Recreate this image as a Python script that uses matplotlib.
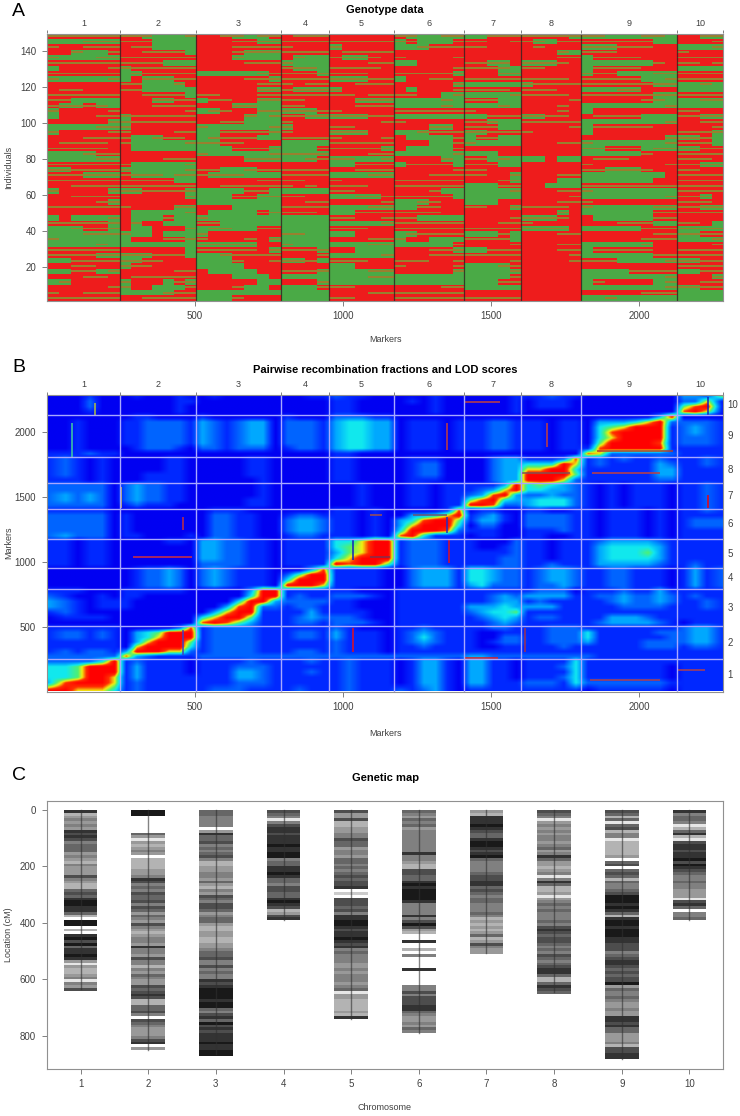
import numpy as np
import matplotlib
matplotlib.use('Agg')
import matplotlib.pyplot as plt
from matplotlib import colors

plt.rcParams['font.family'] = ['Liberation Sans', 'DejaVu Sans']

W, H = 740, 1116

chrom_names = ['1', '2', '3', '4', '5', '6', '7', '8', '9', '10']
chrom_ends = [248, 503, 791, 953, 1173, 1410, 1603, 1805, 2130, 2285]
chrom_cols = [6, 7, 7, 4, 5, 6, 5, 5, 8, 4]

# genotype blocks, top row = individuals 148-150. R/G solid, r/g striped
genotype_rows = [
    'rrrrrr rrgGGGg RRrgGgr Rrrr RRRRR rgGGgg GGrrr rrrrg ggGGGggG RRgg',
    'GGGggg rrrGGGG RRRrrgg rrrr rrrrr grGGGr rrRRr rgGrr rrrrrrGG RRRr',
    'rRRrrr RrrGGGG RRRrrrr rRRR gRRRR GGgrrr rrRRR RrRRR gggrrrRR GGGg',
    'RRgGGr RRrrrrG RRRrggg rrrr Rrrrr RRRRRR RRRRR RRRgG rrrRRRRR rRRR',
    'gGGGgg rrrrrrr RRRgGGG RgGG rggrR rRRRRr RRRRR RRRrr GrrrrRRR rrrr',
    'rrrrrr rrrrGGG RRRRrrr gGGG RRRrr GGRRRR rrggR gggrR GGGGGGrR rrRr',
    'GRRRRr grrrrrr RRRRRRR rggG rrrrR RRRRRr rrrgG rrRRR GrrrrRRR GGGG',
    'rrrrrr Ggrrrrr GGGGGgr rrrg rrrRR rrrrrg RRRgg RRRRR grrGGGgg rrrr',
    'gGGGGg GRgggrr RRRRrrg rrrr gggrr GRRrrR rrrrr rrrrR rrrrrGGg rrrr',
    'RRRRRR rrGGGgR RRRRRrr rRrr RRrrr RRRRRg GGGGG grrrr rrrrrrgg GGgG',
    'RrrRRR rrGGGGG RRRRRgg rggg gRRRR RGRRRr rrrrR rrrRR GGGggRRR GGGG',
    'rrrrrr RRrrrrG rrRRRrr rrrr rrRrr rrRRGg GGGGg rrrrR rrrrrrgg rrrr',
    'rrGGGG RRRggrr GrrRRgg rrRR RRggg GGGGgG rrrGG RRRRr RRRRRrgG GGgg',
    'rggrgG RRRrrrr RRRggGG rrRR RRrrr GGGGgG GGGgG RRRrR GGGGGGGg GGGG',
    'gRRRRr RRRRRRr GgrRRgg gggr rRRRR rrrrrr rRRRR RRRrR GRRRRRRR rrRR',
    'GRRRrr grrrrrr RRRRgGg rrgg gggrr GGGGGG GGrrr ggrrR RrrrrGGG rrgg',
    'RRRRRg grrrrrr RRrrGGG rRRR RRRRr rRRRRR rrgGG rrrrr GGGGGGGg RRrr',
    'GGGGgg gRRRRRR gGGGGGg gRRR rrRRR RRRggR rrrGG RRRRr GrrrrrRR RRRr',
    'gRRRRr rRRRRrr GGrrrrg rRRR gggRR GGgrrr ggrrr rRRRR GRRRRRRR rrrg',
    'RRRrrr rGGgrrR GgrrrGG rrrr rRRRr RGGGGr GrrGG RRRRR RRRRRRRg ggrG',
    'RrrrrR rGGGGGg ggrrRRR GGGG rrrrr RRRGGr gGGGG RRRrr gGGGGGGg rrrG',
    'rrrrrR RGGGGGG GGGrrrg GGGr rrrrg RGGGGr RRRRR RRRRR ggrrrGgg ggrr',
    'GGGgrr RRRRRRR gGGGGGg gggg RRRrr GGGGGg GGGRR RRRRR GGGGGrRR rrrr',
    'GGGGgg RRRRrrr RRRRggg GGgr ggGGg RRRRgG rrGgG GGRGG RrrrRRRR rrrR',
    'rrrrrr rGGGGGg RRRRRRR RRRR GGrrr GrrrrG rrrGG RRRRR rRRRRRRr rrgg',
    'ggrrrr gGGGGGg rrGGgrr rrrr RRrrr RRRRRr rrRRR RRRRR rrgggrRR rrRR',
    'rrrggg rgggGgg rgggGGG rrrr GGGgg RRRrrr rrRRg RRRrr GGGGGGGR rrrr',
    'rrrrrr rrrrrGG RRRRRrr rrRR rRRRR rrrrrr RRRrg RRRGG GGGGGGRR rrrr',
    'RRrrrr rrrrrrr RRrrrrr rRrR rrrRR rrrrrr GGGrr RRGGG rrrrrrrr rrrr',
    'gRRRRg ggrrrrg GGGGrrG GGGG rrRRR RRRrGG GGGGg RRRrr gGGGGGGG rrrr',
    'RRrrrr RRRRRRg GGGrrgg rrRR GGggr rrrrrG GGGGG RRRRr GGGGGGGg rrgR',
    'RRRRrg RRRRRRR GGGGGGG RRrr RRRRr GGgrRR GGGRR RRRrr rRRRRRRR rrrR',
    'rrrrrr rRRRRgg RRRGGGG rrrr GGGgg GGrrRR rrRRg rrrrR gGGGGGgg rrgg',
    'RRRRRR RGGGGGg RGGGGrg rrrR GGrrr rrrrRR RRRRR RRRgR GGGGGGrr rrrr',
    'GRGGGg RGGGrGG gGGGGGG GGGG rrRRr rrGGGG RRRRr gggrR RGGGGGrr RRRR',
    'rrrrrg RgRRGGG rrGGGGG GGGG GGGGg rrrrrr RRRrr rRRRR RRRrrrGG rrRG',
    'GGgrrg RGGRRRg GggGGrr GGGG rrrRR rrrrrr rrrrr ggggR GGGGGrrr gggg',
    'GGGggg gGGRGGG gRRRRRR ggGG GGRRR Ggrrrr GGGrG RRRrr RRRRRRrr ggrr',
    'gGGGGG GRRRrrg rRRRrRg GGGG RRRrr gRRGGG rrrrG RRRRR RRRRRrrr GGGg',
    'GGGGgG GGGGGGG gggggRR gGGG GGGgg GGGGGr RRRRr RRRrr GGGGGgRR RRRr',
    'rrrrrr RRRRRRG rrrrrRg rrrg RRGGG RRRrrg GGrrr RRRrr GrrrrrRR rrrr',
    'rrrrgg gggrrrG GGgrrrr RRRr GGGGg RRRrrr rrrrr RRRRr GGGGGGrr rrrr',
    'GGrrrr ggrrRRR GGGrRRr ggrG rrrRR rrrRRr RRRRr RRRRr rrrGGGGg ggrr',
    'RRrrRR grrRRRR GGGGRRR RRRR GGRRR rRRRRr GGGgr RRRRR RRRRRRRR rrrr',
    'GGrrGg RRRRRrr RGGGGRR rrrg GGGgg RRRRRg GGGGg RRRRR GGGGrrrr GGrr',
    'RRRrrR Rrrrrrr RRRGGGR GGGG GGGgg GGGGGG GGGGr RRRRR GGGGGGGg RRRg',
    'GgRRRR gRRRGrg RRRRRGG RRRg GGGGG GGGGGG GGGrr RRRRR GrRRRRGg RRrr',
    'RRRRRr gRRGGGr RRRrGGR GGGr rrRRR RRRRrr GGGGG RRRRR GGGGGGGg ggrr',
    'rRRrrr GGGGgrr GGGGGGG GGGG RRRrr rrrrrr RRRRR RRRRR RRRRRrrr GGGG',
    'rrrrrr RRrrrrr GGGrRRR GGGG rrRRR rrrrrr rrrrr RRRRR GGgGGGGG GGGG',
]

# pairwise map, 0 = unlinked .. 8 = linked. Top row = chromosome 10
lod_rows = [
    '000100 0100010 0100000 0011 21100 000100 00001 11211 00000000 3308',
    '000200 0000011 0000000 0000 11000 010100 00001 01110 00000000 2260',
    '000200 0000010 0000000 0000 11000 000100 00001 01110 00000000 5780',
    '000100 0000010 0000000 0000 11000 000100 00001 00000 00000000 7860',
    '000000 0110000 1000000 1000 22211 000000 00000 00000 00000038 0000',
    '001000 1122221 3212330 2221 34433 011101 11221 11011 03334682 2221',
    '001000 1122221 3212330 2221 34433 011101 11221 11011 04568881 2321',
    '001000 1122221 3212330 2221 34433 011101 11221 11011 04788881 2321',
    '001000 1122221 3212330 2221 34433 011101 11221 11011 04688881 2221',
    '001000 1122221 3212330 2221 34433 011101 11221 11011 05888871 2221',
    '001000 0122210 2212220 1221 34433 011101 11221 11011 17888881 1111',
    '111211 0000000 0000000 0000 11000 000000 00000 00000 76222222 1111',
    '121010 0000110 0000110 0000 11000 011100 00233 11127 12121121 1121',
    '121010 0000110 0000110 0000 11000 012200 00233 44486 12111132 1121',
    '121010 0000110 0000110 0000 11000 012200 00233 66884 11111133 1111',
    '121010 0011110 0000110 0000 11000 012200 00233 88885 11111133 1111',
    '111010 0011110 0000010 0000 11000 011100 00233 88862 11111122 1111',
    '222220 2322110 0000010 0000 00100 011011 11138 45432 10101110 1121',
    '222220 2322110 0000010 0000 00100 011011 12368 44332 10101110 1121',
    '232320 2322110 0000010 0000 00100 011011 23783 22322 10101110 1121',
    '232320 2322110 0000110 0000 00100 011011 57843 34442 10101110 1121',
    '222220 1211100 0000110 0000 00100 011011 88722 34442 10101110 1121',
    '111110 0000000 0111000 0000 11010 000017 01100 11001 10111010 1121',
    '222220 1000000 0221100 1221 11010 033468 12310 22221 10111010 1111',
    '222220 1000000 0221100 2332 11010 347885 13310 22221 10111010 1222',
    '222220 1000000 0221100 2332 11010 368884 02200 22221 10111010 1222',
    '222220 1000000 0221100 2332 11010 488872 11100 11121 10111010 1111',
    '232220 1100001 0221100 1221 11010 784111 01100 11001 10111010 1111',
    '110110 0000110 3322110 1111 44688 122211 10002 11011 12333321 1111',
    '110110 0000000 3322110 1111 45688 122211 10012 11011 13444431 1111',
    '110110 0000000 3322110 1111 35688 122211 11112 11011 13444531 1111',
    '110110 0000000 3322110 1111 46888 122211 11122 11011 13444431 1111',
    '110110 0000000 2222110 1111 87885 122211 11122 11211 13333321 1211',
    '000000 0122320 2321110 0037 11110 023331 44322 12332 11221110 1312',
    '000000 0122320 2321110 2588 11110 023331 44322 12332 11221110 1312',
    '000000 0122320 2321110 4888 11110 023331 44322 12332 11221110 1312',
    '000000 0122320 2321110 8886 11110 023331 34222 12232 11221110 1312',
    '111000 1111110 0000388 1111 11000 111111 11111 12220 11121131 1111',
    '210010 1100000 0000488 1211 22210 111111 11232 33331 12232232 1211',
    '321011 1000000 0004883 2222 11000 111111 11233 12111 11232232 1121',
    '321011 1000000 0037822 1221 11000 111111 33343 33311 11122221 1121',
    '121000 0000000 0368811 1131 11100 111111 23445 11111 11111111 1111',
    '011110 0000000 4688511 1232 22100 111111 12343 12211 11333211 1111',
    '000000 0000000 7875311 1221 22210 111111 11232 11111 12333321 0111',
    '111111 0000027 1222211 1111 21000 112111 11221 11222 11111111 2331',
    '122121 0345888 1222211 1221 31110 123211 10011 11222 41111122 2331',
    '122121 0346888 1222211 1221 31110 124211 10022 11222 41111112 2331',
    '111111 0368885 1222211 1111 21110 123211 10122 11222 31111222 2331',
    '111111 0688884 1222211 1111 21110 112111 10011 11121 11111222 1221',
    '121221 3888662 1222211 1221 21110 111111 11111 11111 11111111 1111',
    '222222 7321111 2222222 2222 22222 222222 33222 22222 21111111 1111',
    '222248 1211110 1111211 1121 12111 013310 33110 11114 11111111 1111',
    '445888 1311110 1112221 1111 12111 013310 33110 11124 11111110 1111',
    '445888 1311110 1113321 1121 12111 013310 33110 11114 11111110 1111',
    '445886 1311111 1113321 1111 12111 013310 33110 11124 11111110 1111',
    '378886 1211111 1112221 1111 12111 013310 33111 22214 22222221 1111',
    '886664 1211111 1222111 1211 12111 212310 11111 11111 01111110 1111',
]

# thin streaks in the pairwise map
streak_x0 = [163, 84, 252, 459, 292, 1353, 1689, 1413, 1858, 1842, 1605, 2235, 1238, 1092,
             1359, 1092, 1035, 1035, 459, 1616, 1413, 1836, 2133, 2234, 1353]
streak_x1 = [163, 84, 252, 459, 491, 1353, 1689, 1531, 2116, 2072, 1768, 2235, 1353, 1133,
             1359, 1160, 1035, 1035, 459, 1616, 1525, 2072, 2224, 2234, 1353]
streak_y0 = [2130, 1808, 1415, 1246, 1038, 1862, 1885, 2231, 1854, 1687, 1687, 1415, 1361, 1361,
             992, 1038, 308, 1015, 285, 308, 262, 87, 169, 2130, 1223]
streak_y1 = [2222, 2070, 1577, 1346, 1038, 2069, 2069, 2231, 1854, 1687, 1687, 1515, 1361, 1361,
             1169, 1038, 492, 1169, 477, 492, 262, 87, 169, 2270, 1346]
streak_col = ['#b0c040', '#40d0a0', '#e0c040', '#c03040', '#d03040', '#c04040', '#c04040', '#c04040',
              '#b04030', '#c04040', '#805050', '#f00010', '#705070', '#a05050', '#e01020', '#803050',
              '#e01020', '#1020c0', '#4040c0', '#a03050', '#e02020', '#b04050', '#b04050', '#1020c0',
              '#2030c0']

# marker density along each chromosome, one digit per 10 cM, 0 = none .. 9 = dense
map_bins = [
    '8345454878' '7566645435' '4447543367' '6899886309' '9030897968' '8984143345' '1547',
    '9900000064' '1434540333' '3445875657' '6675764654' '7543455485' '5475535465' '4476787336'
    '675' '07654' '44578' '04',
    '6655550486' '6756567533' '4455464354' '7657764566' '4334433445' '6675575655' '8789999899'
    '6578697878' '8898899',
    '7651578878' '8898899566' '8898665776' '689873478',
    '7447334455' '7664554665' '6567677802' '0777675889' '9878898785' '6555445455' '5456144333'
    '3438',
    '6546564555' '5555585543' '3776689899' '9985555857' '9743008003' '0500008000' '0055757778'
    '865445465',
    '4388898766' '8998789655' '5567788676' '5665556534' '34346347544',
    '7651454545' '5456458644' '3451586334' '1456565556' '5787677656' '5765678863' '36876',
    '7636167355' '1333334067' '0676365567' '9998986389' '9899988777' '5678876767' '7946556544'
    '5448878664' '44537788',
    '8566513683' '1788788979' '8765565544' '417860556',
]
map_ends = [635, 850, 865, 390, 740, 790, 505, 645, 880, 390]

geno_colors = ['#ee1c1c', '#4aaa46', '#98802f']
lod_colors = ['#0000f2', '#0028ff', '#0064ff', '#00a8ff', '#10e8f0',
              '#50f070', '#f0f010', '#ff3000', '#ff0000']


def px_axes(fig, left, top, right, bottom):
    return fig.add_axes([left / W, 1 - bottom / H, (right - left) / W, (bottom - top) / H])


def style(ax):
    for s in ax.spines.values():
        s.set_color('#909090')
        s.set_linewidth(0.8)
    ax.tick_params(labelsize=7, length=3.6, width=0.7, color='#808080', labelcolor='#404040', pad=4)


def chrom_edges():
    # grid column edges, equal spacing inside each chromosome
    edges = [0.0]
    start = 0
    for end, n in zip(chrom_ends, chrom_cols):
        edges.extend(list(np.linspace(start, end, n + 1)[1:]))
        start = end
    return np.array(edges)


def top_chrom_axis(ax):
    sec = ax.secondary_xaxis('top')
    sec.set_xticks([0] + chrom_ends)
    sec.set_xticklabels([])
    sec.tick_params(length=2.2, width=0.7, color='#808080')
    sec.spines['top'].set_visible(False)
    mids = (np.array([0] + chrom_ends[:-1]) + np.array(chrom_ends)) / 2
    for m, name in zip(mids, chrom_names):
        ax.annotate(name, (m, 1), xycoords=('data', 'axes fraction'), xytext=(0, 4),
                    textcoords='offset points', ha='center', va='bottom', fontsize=6.5, color='#404040')


edges = chrom_edges()
fig = plt.figure(figsize=(W / 100, H / 100), dpi=100)

# A: genotypes
stripes = {'R': [0, 0, 0], 'G': [1, 1, 1], 'r': [0, 2, 0], 'g': [1, 2, 1]}
geno = []
for row in genotype_rows:
    cells = [stripes[c] for c in row.replace(' ', '')]
    geno.extend([[cell[k] for cell in cells] for k in range(3)])
geno = np.array(geno)[::-1]

ax = px_axes(fig, 46.7, 33.5, 723.3, 300.7)
ax.pcolormesh(edges, np.linspace(1, 150, 151), geno, cmap=colors.ListedColormap(geno_colors),
              vmin=-0.5, vmax=2.5)
for e in chrom_ends[:-1]:
    ax.axvline(e, color='#302020', lw=0.9, alpha=0.8)
ax.set_xlim(0, 2285)
ax.set_ylim(1, 150)
ax.set_xticks([500, 1000, 1500, 2000])
ax.set_yticks(range(20, 141, 20))
style(ax)
top_chrom_axis(ax)
fig.text(385 / W, 1 - 10 / H, 'Genotype data', ha='center', va='center', fontsize=8, fontweight='bold')
fig.text(385 / W, 1 - 339 / H, 'Markers', ha='center', va='center', fontsize=6.5, color='#404040')
fig.text(9 / W, 1 - 167 / H, 'Individuals', rotation=90, ha='center', va='center', fontsize=6.5, color='#404040')
fig.text(12 / W, 1 - 11 / H, 'A', ha='left', va='center', fontsize=14)

# B: recombination fractions and LOD
lod = np.array([[int(c) for c in row.replace(' ', '')] for row in lod_rows], dtype=float)[::-1]
centres = (edges[:-1] + edges[1:]) / 2
centres[0], centres[-1] = 0, 2285
fine = np.arange(0, 2286, 3)
lod_x = np.array([np.interp(fine, centres, row) for row in lod])
lod_fine = np.array([np.interp(fine, centres, col) for col in lod_x.T]).T

ax = px_axes(fig, 46.7, 395, 723.3, 691.5)
ax.imshow(lod_fine, origin='lower', extent=(0, 2285, 0, 2285), aspect='auto', interpolation='bilinear',
          cmap=colors.LinearSegmentedColormap.from_list('lod', lod_colors), vmin=0, vmax=8)
for x0, x1, y0, y1, col in zip(streak_x0, streak_x1, streak_y0, streak_y1, streak_col):
    ax.plot([x0, x1], [y0, y1], color=col, lw=1.1, solid_capstyle='butt')
for e in chrom_ends[:-1]:
    ax.axvline(e, color='#a8a8ff', lw=1)
    ax.axhline(e, color='#a8a8ff', lw=1)
ax.set_xlim(0, 2285)
ax.set_ylim(0, 2285)
ax.set_xticks([500, 1000, 1500, 2000])
ax.set_yticks([500, 1000, 1500, 2000])
style(ax)
top_chrom_axis(ax)
mids = (np.array([0] + chrom_ends[:-1]) + np.array(chrom_ends)) / 2
for m, name in zip(mids, chrom_names):
    ax.annotate(name, (1, m), xycoords=('axes fraction', 'data'), xytext=(3, 0),
                textcoords='offset points', ha='left', va='center', fontsize=7, color='#404040')
fig.text(385 / W, 1 - 370 / H, 'Pairwise recombination fractions and LOD scores', ha='center', va='center',
         fontsize=8, fontweight='bold')
fig.text(385 / W, 1 - 733 / H, 'Markers', ha='center', va='center', fontsize=6.5, color='#404040')
fig.text(9 / W, 1 - 543 / H, 'Markers', rotation=90, ha='center', va='center', fontsize=6.5, color='#404040')
fig.text(12 / W, 1 - 367 / H, 'B', ha='left', va='center', fontsize=14)

# C: genetic map
ax = px_axes(fig, 46.7, 800.7, 723.3, 1068.7)
for i, (bins, end) in enumerate(zip(map_bins, map_ends)):
    pos = i + 1
    dens = np.array([int(c) for c in bins])
    ys = 5 + 10 * np.arange(len(dens))
    ax.barh(ys, 0.5, left=pos - 0.25, height=10, color=[str(1 - d / 10) for d in dens], linewidth=0)
    ax.plot([pos, pos], [0, end], color='#303030', lw=1, alpha=0.6)
ax.set_xlim(0.5, 10.5)
ax.set_ylim(916, -33)
ax.set_xticks(range(1, 11))
ax.set_yticks(range(0, 801, 200))
style(ax)
fig.text(385 / W, 1 - 778 / H, 'Genetic map', ha='center', va='center', fontsize=8, fontweight='bold')
fig.text(385 / W, 1 - 1107 / H, 'Chromosome', ha='center', va='center', fontsize=6.5, color='#404040')
fig.text(9 / W, 1 - 935 / H, 'Location (cM)', rotation=90, ha='center', va='center', fontsize=6.5, color='#404040')
fig.text(12 / W, 1 - 775 / H, 'C', ha='left', va='center', fontsize=14)

fig.savefig('out.png', dpi=100)
